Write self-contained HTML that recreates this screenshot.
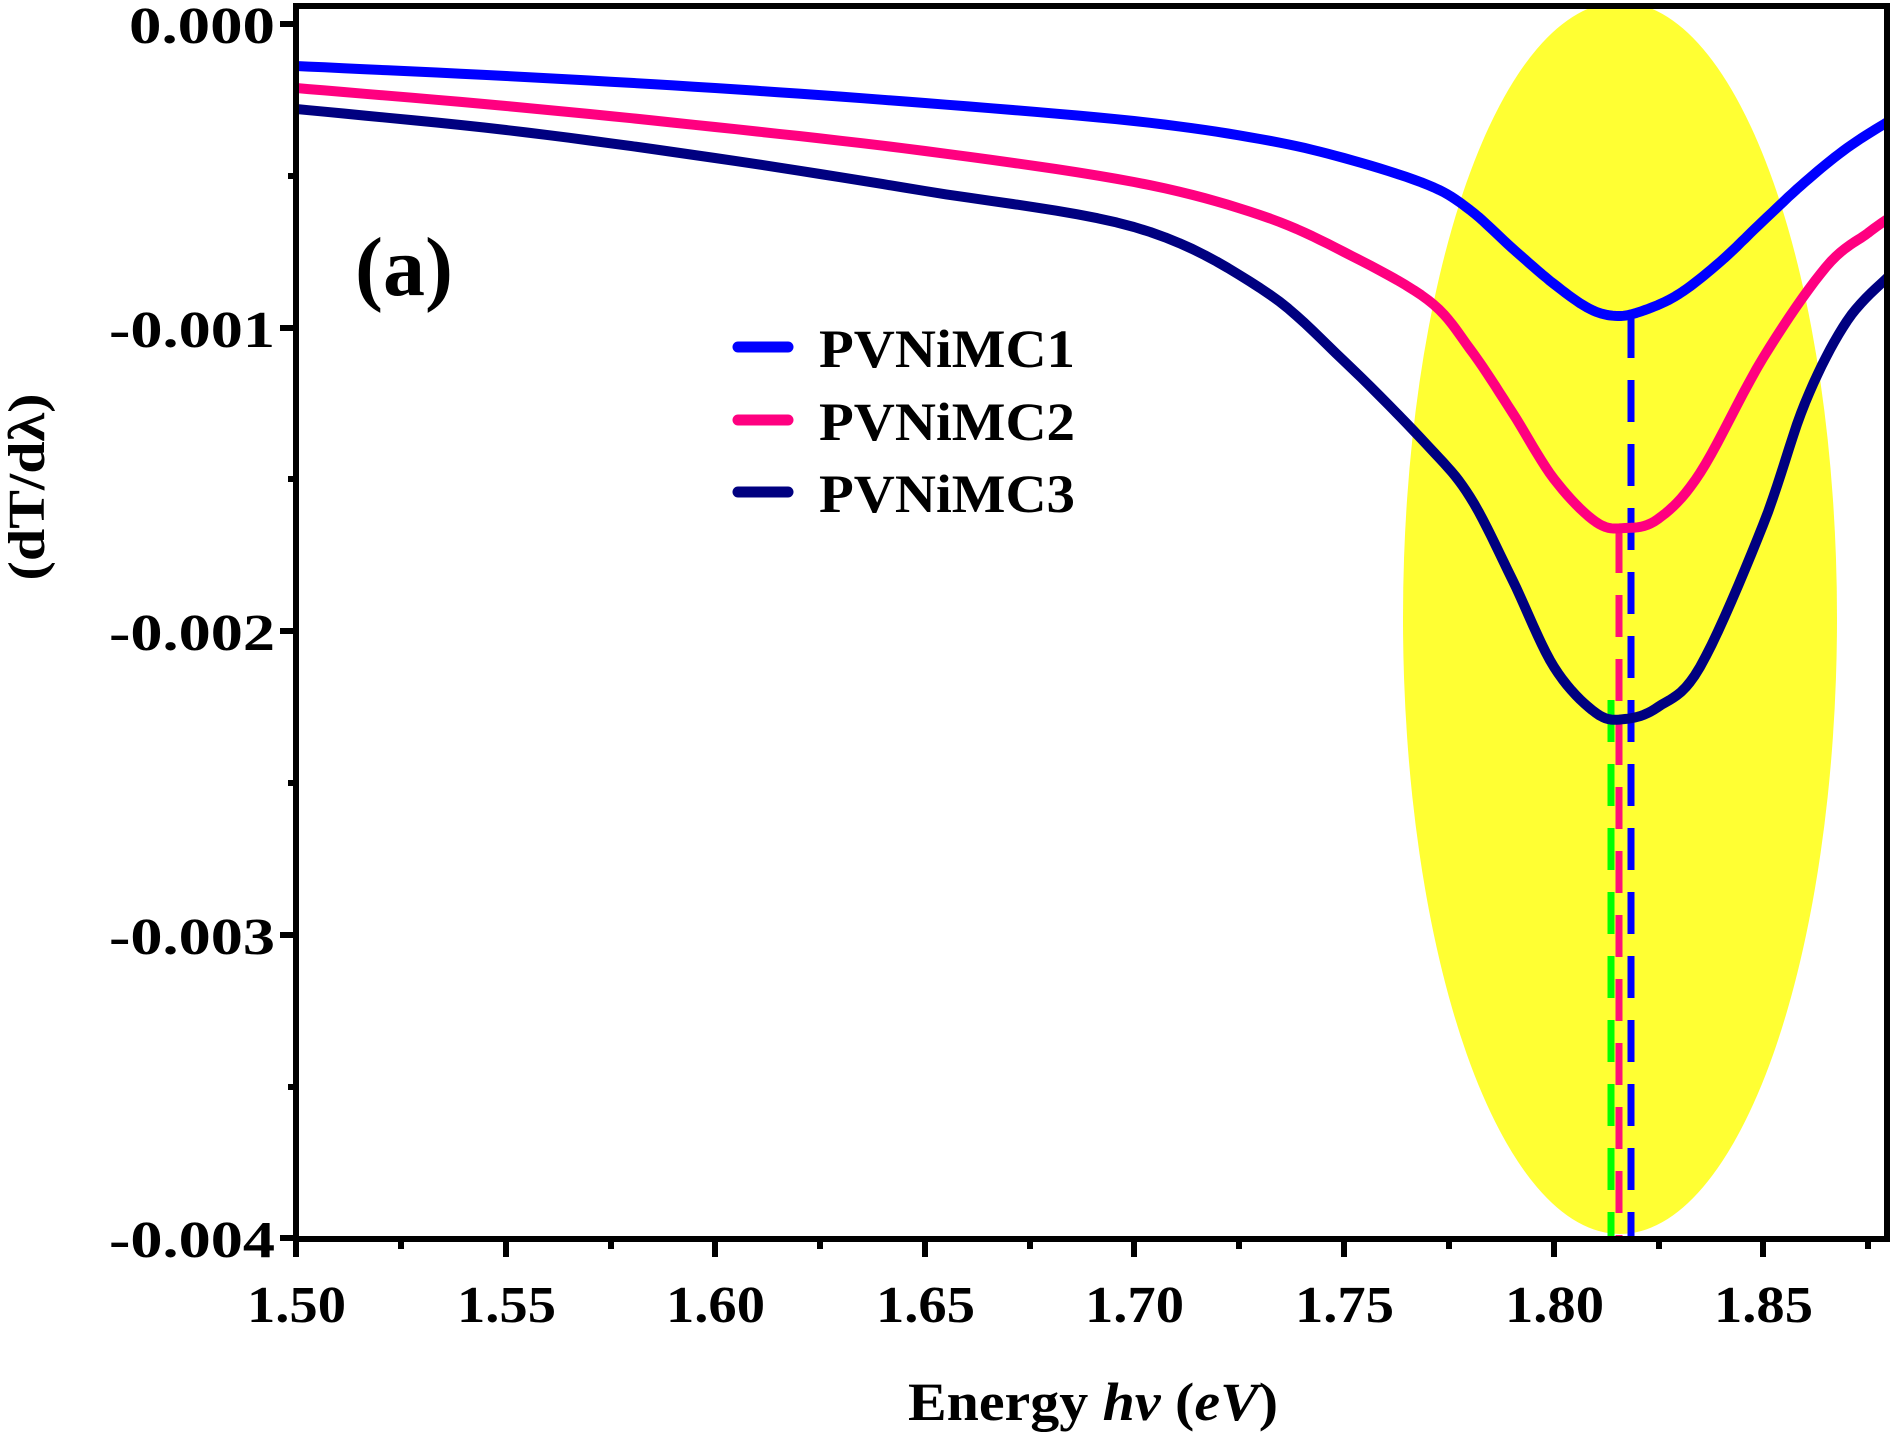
<!DOCTYPE html>
<html><head><meta charset="utf-8"><style>
html,body{margin:0;padding:0;background:#fff;}
svg{display:block;}
text{font-family:"Liberation Serif",serif;font-weight:bold;fill:#000;}
</style></head><body>
<svg width="1894" height="1432" viewBox="0 0 1894 1432" xmlns="http://www.w3.org/2000/svg">
<defs><clipPath id="c"><rect x="296" y="6" width="1591" height="1233"/></clipPath></defs>
<g clip-path="url(#c)">
<ellipse cx="1620" cy="618" rx="217" ry="616" fill="#ffff33"/>
<g stroke-width="7" fill="none">
<line x1="1631" y1="316" x2="1631" y2="1236" stroke="#0000ff" stroke-dasharray="42,22"/>
<line x1="1611" y1="700" x2="1611" y2="1238" stroke="#00ff00" stroke-dasharray="42,22"/>
<line x1="1619" y1="531" x2="1619" y2="1236" stroke="#ff1177" stroke-dasharray="42,22"/>
</g>
<g fill="none" stroke-width="10" stroke-linejoin="round">
<polyline class="sm" stroke="#0000ff" points="296,66 506,76 715,88 925,103 1134,121 1260,139 1344,158 1428,185 1470,210 1512,248 1554,284 1590,309 1618,316 1645,310 1679,294 1720,262 1763,221 1805,182 1847,148 1889,121"/>
<polyline class="sm" stroke="#ff0080" points="296,88 506,106 715,127 925,151 1134,182 1260,215 1344,252 1428,300 1470,349 1512,412 1554,479 1596,522 1625,528 1658,519 1700,473 1763,358 1826,267 1868,233 1889,218"/>
<polyline class="sm" stroke="#000080" points="296,109 506,130 715,158 925,191 1134,227 1260,288 1344,361 1428,446 1470,497 1512,579 1554,667 1596,713 1625,719 1658,707 1700,667 1763,525 1805,403 1847,321 1889,276"/>
</g>
</g>
<rect x="296" y="6" width="1591" height="1233" fill="none" stroke="#000" stroke-width="6"/>
<g stroke="#000" stroke-width="6">
<line x1="280" y1="24" x2="296" y2="24"/><line x1="288" y1="176" x2="296" y2="176"/>
<line x1="280" y1="328" x2="296" y2="328"/><line x1="288" y1="479" x2="296" y2="479"/>
<line x1="280" y1="631" x2="296" y2="631"/><line x1="288" y1="783" x2="296" y2="783"/>
<line x1="280" y1="935" x2="296" y2="935"/><line x1="288" y1="1087" x2="296" y2="1087"/>
<line x1="280" y1="1238" x2="296" y2="1238"/>
<line x1="296" y1="1239" x2="296" y2="1257"/><line x1="401" y1="1239" x2="401" y2="1249"/>
<line x1="506" y1="1239" x2="506" y2="1257"/><line x1="611" y1="1239" x2="611" y2="1249"/>
<line x1="715" y1="1239" x2="715" y2="1257"/><line x1="820" y1="1239" x2="820" y2="1249"/>
<line x1="925" y1="1239" x2="925" y2="1257"/><line x1="1030" y1="1239" x2="1030" y2="1249"/>
<line x1="1134" y1="1239" x2="1134" y2="1257"/><line x1="1239" y1="1239" x2="1239" y2="1249"/>
<line x1="1344" y1="1239" x2="1344" y2="1257"/><line x1="1449" y1="1239" x2="1449" y2="1249"/>
<line x1="1554" y1="1239" x2="1554" y2="1257"/><line x1="1659" y1="1239" x2="1659" y2="1249"/>
<line x1="1763" y1="1239" x2="1763" y2="1257"/><line x1="1868" y1="1239" x2="1868" y2="1249"/>
</g>
<g font-size="52" lengthAdjust="spacingAndGlyphs">
<text x="129" y="43" textLength="146" lengthAdjust="spacingAndGlyphs">0.000</text>
<text x="109" y="347" textLength="166" lengthAdjust="spacingAndGlyphs">-0.001</text>
<text x="109" y="650" textLength="166" lengthAdjust="spacingAndGlyphs">-0.002</text>
<text x="109" y="954" textLength="166" lengthAdjust="spacingAndGlyphs">-0.003</text>
<text x="109" y="1257" textLength="166" lengthAdjust="spacingAndGlyphs">-0.004</text>
</g>
<g font-size="52">
<text x="247" y="1322" textLength="99" lengthAdjust="spacingAndGlyphs">1.50</text>
<text x="457" y="1322" textLength="99" lengthAdjust="spacingAndGlyphs">1.55</text>
<text x="666" y="1322" textLength="99" lengthAdjust="spacingAndGlyphs">1.60</text>
<text x="876" y="1322" textLength="99" lengthAdjust="spacingAndGlyphs">1.65</text>
<text x="1085" y="1322" textLength="99" lengthAdjust="spacingAndGlyphs">1.70</text>
<text x="1295" y="1322" textLength="99" lengthAdjust="spacingAndGlyphs">1.75</text>
<text x="1505" y="1322" textLength="99" lengthAdjust="spacingAndGlyphs">1.80</text>
<text x="1714" y="1322" textLength="99" lengthAdjust="spacingAndGlyphs">1.85</text>
</g>
<text x="908" y="1420" font-size="54" textLength="370" lengthAdjust="spacingAndGlyphs">Energy <tspan font-style="italic">hv</tspan> (<tspan font-style="italic">eV</tspan>)</text>
<text transform="translate(44,487) rotate(-90)" font-size="52" text-anchor="middle" textLength="187" lengthAdjust="spacingAndGlyphs">(dT/dλ)</text>
<text x="355" y="295" font-size="84">(a)</text>
<g stroke-width="11" stroke-linecap="round">
<line x1="738" y1="347" x2="788" y2="347" stroke="#0000ff"/>
<line x1="738" y1="420" x2="788" y2="420" stroke="#ff0080"/>
<line x1="738" y1="492" x2="788" y2="492" stroke="#000080"/>
</g>
<g font-size="54">
<text x="819" y="367" textLength="256" lengthAdjust="spacingAndGlyphs">PVNiMC1</text>
<text x="819" y="440" textLength="256" lengthAdjust="spacingAndGlyphs">PVNiMC2</text>
<text x="819" y="512" textLength="256" lengthAdjust="spacingAndGlyphs">PVNiMC3</text>
</g>
</svg>
<script>
document.querySelectorAll('polyline.sm').forEach(function(pl){
  var p=pl.getAttribute('points').trim().split(/\s+/).map(function(s){return s.split(',').map(Number);});
  var out=[];
  for(var i=0;i<p.length-1;i++){
    var p0=p[Math.max(0,i-1)],p1=p[i],p2=p[i+1],p3=p[Math.min(p.length-1,i+2)];
    for(var t=0;t<1;t+=0.1){
      var t2=t*t,t3=t2*t;
      var f=function(a,b,c,d){return 0.5*((2*b)+(-a+c)*t+(2*a-5*b+4*c-d)*t2+(-a+3*b-3*c+d)*t3);};
      out.push(f(p0[0],p1[0],p2[0],p3[0]).toFixed(1)+','+f(p0[1],p1[1],p2[1],p3[1]).toFixed(1));
    }
  }
  out.push(p[p.length-1].join(','));
  pl.setAttribute('points',out.join(' '));
});
</script>
</body></html>
